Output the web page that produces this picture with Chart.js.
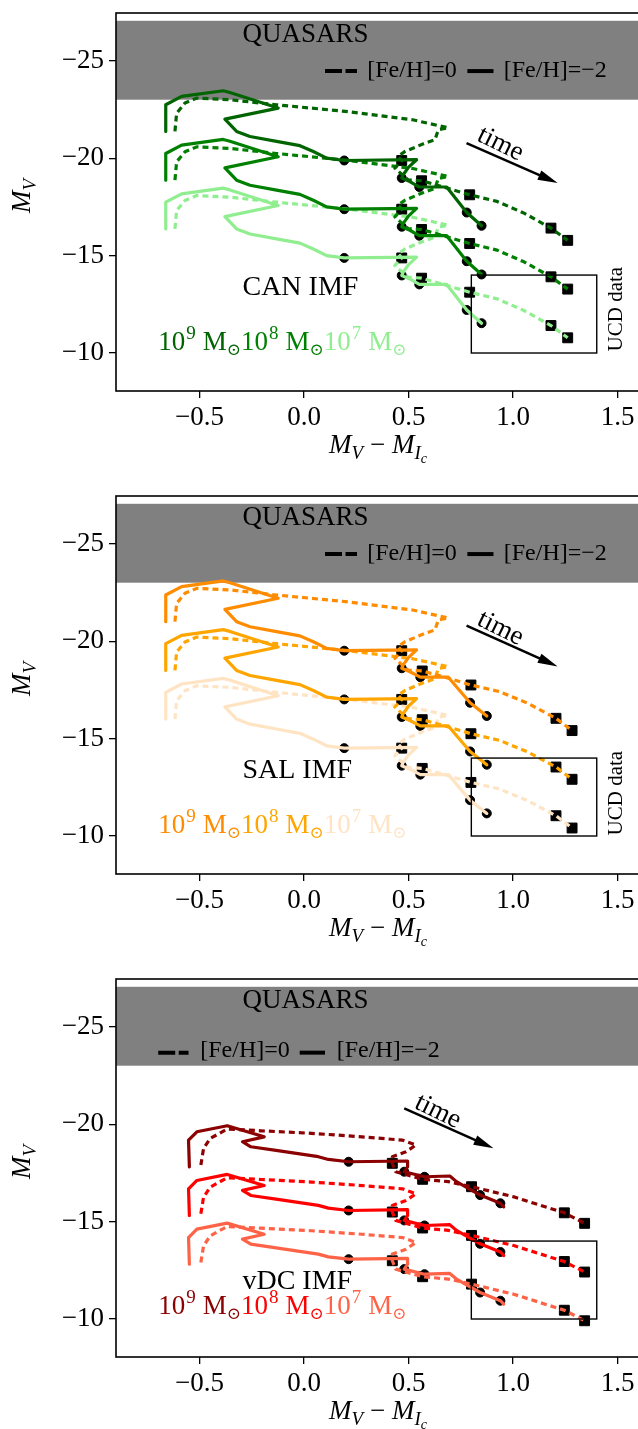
<!DOCTYPE html>
<html>
<head>
<meta charset="utf-8">
<script src="https://cdn.jsdelivr.net/npm/chart.js@4.4.0/dist/chart.umd.min.js"></script>
<style>
  html, body { margin: 0; padding: 0; background: #fff; width: 638px; height: 1429px; overflow: hidden; }
  canvas { position: absolute; left: 0; }
</style>
</head>
<body>
<canvas id="c0" width="665" height="483" style="top:0px"></canvas>
<canvas id="c1" width="665" height="483" style="top:483px"></canvas>
<canvas id="c2" width="665" height="483" style="top:966px"></canvas>
<script>
// axes
const xTicks = [-0.5, 0.0, 0.5, 1.0, 1.5];
const yTicks = [-25, -20, -15, -10];
const quasarBand = [-23.0, -27.05];
const ucdBoxX = [0.8, 1.4];
const ucdBoxY = [-14, -10];
const massExp = ['9', '8', '7'];

// colours per IMF (10^9, 10^8, 10^7)
const canColors = ['#006400', '#008000', '#90ee90'];
const salColors = ['#ff8c00', '#ffa500', '#ffe4c4'];
const vdcColors = ['#8b0000', '#ff0000', '#ff6347'];

// CAN IMF, [Fe/H]=-2 (solid)
const canSolidX  = [-0.662, -0.662, -0.586, -0.387, -0.355, -0.124, -0.379, -0.323, -0.259, -0.132, -0.020, 0.044, 0.108, 0.192, 0.538, 0.500, 0.474, 0.467, 0.506, 0.551, 0.682, 0.778, 0.849];
const canSolidY9 = [-21.37, -22.74, -23.17, -23.46, -23.37, -22.57, -22.00, -21.37, -21.11, -20.86, -20.64, -20.34, -20.00, -19.88, -19.92, -19.54, -19.15, -18.98, -18.80, -18.52, -18.52, -17.21, -16.53];
const canSolidY8 = [-18.87, -20.24, -20.67, -20.96, -20.87, -20.07, -19.50, -18.87, -18.61, -18.36, -18.14, -17.84, -17.50, -17.38, -17.42, -17.04, -16.65, -16.48, -16.30, -16.02, -16.02, -14.71, -14.03];
const canSolidY7 = [-16.37, -17.74, -18.17, -18.46, -18.37, -17.57, -17.00, -16.37, -16.11, -15.86, -15.64, -15.34, -15.00, -14.88, -14.92, -14.54, -14.15, -13.98, -13.80, -13.52, -13.52, -12.21, -11.53];
// CAN IMF, [Fe/H]=0 (dashed)
const canDashX  = [-0.618, -0.610, -0.570, -0.514, -0.355, -0.132, 0.197, 0.519, 0.689, 0.642, 0.626, 0.578, 0.482, 0.450, 0.467, 0.434, 0.497, 0.562, 0.682, 0.792, 0.923, 1.052, 1.181, 1.261];
const canDashY9 = [-21.37, -22.31, -22.83, -23.08, -23.00, -22.74, -22.40, -21.97, -21.56, -21.46, -20.94, -20.77, -20.34, -20.09, -19.88, -19.49, -18.89, -18.84, -18.47, -18.12, -17.78, -17.18, -16.41, -15.78];
const canDashY8 = [-18.87, -19.81, -20.33, -20.58, -20.50, -20.24, -19.90, -19.47, -19.06, -18.96, -18.44, -18.27, -17.84, -17.59, -17.38, -16.99, -16.39, -16.34, -15.97, -15.62, -15.28, -14.68, -13.91, -13.28];
const canDashY7 = [-16.37, -17.31, -17.83, -18.08, -18.00, -17.74, -17.40, -16.97, -16.56, -16.46, -15.94, -15.77, -15.34, -15.09, -14.88, -14.49, -13.89, -13.84, -13.47, -13.12, -12.78, -12.18, -11.41, -10.78];
const canSolidMarks = [13, 17, 19, 21, 22];
const canDashMarks = [14, 17, 19, 22, 23];

// SAL IMF
const salSolidX  = [-0.662, -0.662, -0.586, -0.387, -0.355, -0.124, -0.379, -0.323, -0.259, -0.132, -0.020, 0.044, 0.108, 0.192, 0.538, 0.500, 0.474, 0.467, 0.506, 0.556, 0.690, 0.794, 0.874];
const salSolidY9 = [-21.00, -22.37, -22.80, -23.09, -23.00, -22.20, -21.63, -21.00, -20.74, -20.49, -20.27, -19.97, -19.63, -19.51, -19.55, -19.17, -18.78, -18.61, -18.43, -18.15, -18.15, -16.84, -16.16];
const salSolidY8 = [-18.50, -19.87, -20.30, -20.59, -20.50, -19.70, -19.13, -18.50, -18.24, -17.99, -17.77, -17.47, -17.13, -17.01, -17.05, -16.67, -16.28, -16.11, -15.93, -15.65, -15.65, -14.34, -13.66];
const salSolidY7 = [-16.00, -17.37, -17.80, -18.09, -18.00, -17.20, -16.63, -16.00, -15.74, -15.49, -15.27, -14.97, -14.63, -14.51, -14.55, -14.17, -13.78, -13.61, -13.43, -13.15, -13.15, -11.84, -11.16];
const salDashX  = [-0.618, -0.610, -0.570, -0.514, -0.355, -0.132, 0.197, 0.519, 0.689, 0.642, 0.626, 0.578, 0.482, 0.450, 0.467, 0.434, 0.497, 0.565, 0.690, 0.798, 0.935, 1.070, 1.205, 1.282];
const salDashY9 = [-21.00, -21.94, -22.46, -22.71, -22.63, -22.37, -22.03, -21.60, -21.19, -21.09, -20.57, -20.40, -19.97, -19.72, -19.51, -19.12, -18.52, -18.47, -18.10, -17.75, -17.41, -16.81, -16.04, -15.41];
const salDashY8 = [-18.50, -19.44, -19.96, -20.21, -20.13, -19.87, -19.53, -19.10, -18.69, -18.59, -18.07, -17.90, -17.47, -17.22, -17.01, -16.62, -16.02, -15.97, -15.60, -15.25, -14.91, -14.31, -13.54, -12.91];
const salDashY7 = [-16.00, -16.94, -17.46, -17.71, -17.63, -17.37, -17.03, -16.60, -16.19, -16.09, -15.57, -15.40, -14.97, -14.72, -14.51, -14.12, -13.52, -13.47, -13.10, -12.75, -12.41, -11.81, -11.04, -10.41];

// vDC IMF
const vdcSolidX  = [-0.549, -0.553, -0.513, -0.368, -0.191, -0.295, -0.255, -0.126, 0.068, 0.116, 0.213, 0.495, 0.495, 0.479, 0.576, 0.697, 0.729, 0.842, 0.939, 0.955];
const vdcSolidY9 = [-17.81, -19.18, -19.61, -19.92, -19.35, -19.10, -18.84, -18.64, -18.33, -18.19, -18.07, -18.11, -17.81, -17.56, -17.30, -17.34, -17.05, -16.36, -15.94, -15.76];
const vdcSolidY8 = [-15.31, -16.68, -17.11, -17.42, -16.85, -16.60, -16.34, -16.14, -15.83, -15.69, -15.57, -15.61, -15.31, -15.06, -14.80, -14.84, -14.55, -13.86, -13.44, -13.26];
const vdcSolidY7 = [-12.81, -14.18, -14.61, -14.92, -14.35, -14.10, -13.84, -13.64, -13.33, -13.19, -13.07, -13.11, -12.81, -12.56, -12.30, -12.34, -12.05, -11.36, -10.94, -10.76];
const vdcDashX  = [-0.494, -0.481, -0.449, -0.368, -0.207, 0.035, 0.277, 0.471, 0.535, 0.487, 0.422, 0.422, 0.438, 0.567, 0.690, 0.801, 1.003, 1.245, 1.342];
const vdcDashY9 = [-17.90, -18.76, -19.27, -19.75, -19.66, -19.53, -19.35, -19.18, -18.93, -18.58, -18.33, -17.99, -17.56, -17.17, -17.05, -16.79, -16.27, -15.45, -14.91];
const vdcDashY8 = [-15.40, -16.26, -16.77, -17.25, -17.16, -17.03, -16.85, -16.68, -16.43, -16.08, -15.83, -15.49, -15.06, -14.67, -14.55, -14.29, -13.77, -12.95, -12.41];
const vdcDashY7 = [-12.90, -13.76, -14.27, -14.75, -14.66, -14.53, -14.35, -14.18, -13.93, -13.58, -13.33, -12.99, -12.56, -12.17, -12.05, -11.79, -11.27, -10.45, -9.91];
const vdcSolidMarks = [10, 13, 14, 17, 18];
const vdcDashMarks = [11, 13, 15, 17, 18];

const SERIF = '"Liberation Serif", "Times New Roman", serif';

const panels = [
  { id: 'c0', imf: 'CAN IMF', colors: canColors,
    solidX: canSolidX, solidY: [canSolidY9, canSolidY8, canSolidY7],
    dashX: canDashX, dashY: [canDashY9, canDashY8, canDashY7],
    solidMarks: canSolidMarks, dashMarks: canDashMarks,
    imfPos: [-0.295, -13.0], massPos: [-0.698, -10.17],
    legend: { y: -24.47, base: -24.18, x: [0.100, 0.253, 0.302, 0.781, 0.906, 0.955] },
    arrow: [0.777, -20.77, 1.213, -18.72], timePos: [0.939, -20.72], ucd: [1.519, -12.25] },
  { id: 'c1', imf: 'SAL IMF', colors: salColors,
    solidX: salSolidX, solidY: [salSolidY9, salSolidY8, salSolidY7],
    dashX: salDashX, dashY: [salDashY9, salDashY8, salDashY7],
    solidMarks: canSolidMarks, dashMarks: canDashMarks,
    imfPos: [-0.295, -12.96], massPos: [-0.698, -10.15],
    legend: { y: -24.47, base: -24.18, x: [0.100, 0.253, 0.302, 0.781, 0.906, 0.955] },
    arrow: [0.777, -20.80, 1.213, -18.70], timePos: [0.939, -20.65], ucd: [1.519, -12.2] },
  { id: 'c2', imf: 'vDC IMF', colors: vdcColors,
    solidX: vdcSolidX, solidY: [vdcSolidY9, vdcSolidY8, vdcSolidY7],
    dashX: vdcDashX, dashY: [vdcDashY9, vdcDashY8, vdcDashY7],
    solidMarks: vdcSolidMarks, dashMarks: vdcDashMarks,
    imfPos: [-0.295, -11.52], massPos: [-0.698, -10.26],
    legend: { y: -23.67, base: -23.43, x: [-0.698, -0.553, -0.497, -0.021, 0.100, 0.156] },
    arrow: [0.479, -20.81, 0.906, -18.76], timePos: [0.640, -20.64], ucd: null }
];

function pts(xs, ys) { return xs.map((x, i) => ({ x: x, y: ys[i] })); }

function lineSet(xs, ys, color, dashed, order) {
  return {
    data: pts(xs, ys), showLine: true, borderColor: color, borderWidth: 3.2,
    borderDash: dashed ? [6, 4] : [], pointRadius: 0, pointHoverRadius: 0,
    borderJoinStyle: 'round', borderCapStyle: dashed ? 'butt' : 'round',
    tension: 0, fill: false, order: order
  };
}

function markSet(xs, ys, idx, style) {
  return {
    data: idx.map(i => ({ x: xs[i], y: ys[i] })), showLine: false,
    pointStyle: style, pointRadius: style === 'rect' ? 7 : 4.5, pointHoverRadius: 0,
    backgroundColor: '#000', borderColor: '#000', borderWidth: 1, order: 10
  };
}

function minus(s) { return String(s).replace('-', '\u2212'); }

function drawArrow(ctx, x1, y1, x2, y2) {
  const a = Math.atan2(y2 - y1, x2 - x1);
  const hl = 20, hw = 5;
  const bx = x2 - hl * Math.cos(a), by = y2 - hl * Math.sin(a);
  ctx.strokeStyle = '#000'; ctx.fillStyle = '#000'; ctx.lineWidth = 2.5;
  ctx.beginPath(); ctx.moveTo(x1, y1); ctx.lineTo(bx + 2 * Math.cos(a), by + 2 * Math.sin(a)); ctx.stroke();
  ctx.beginPath();
  ctx.moveTo(x2, y2);
  ctx.lineTo(bx + hw * Math.sin(a), by - hw * Math.cos(a));
  ctx.lineTo(bx - hw * Math.sin(a), by + hw * Math.cos(a));
  ctx.closePath(); ctx.fill();
}

function massLabel(ctx, x, y, exp, color) {
  ctx.fillStyle = color;
  ctx.font = '27px ' + SERIF;
  ctx.fillText('10', x, y); x += ctx.measureText('10').width;
  ctx.font = '19px ' + SERIF;
  ctx.fillText(exp, x + 1, y - 11); x += ctx.measureText(exp).width + 8;
  ctx.font = '27px ' + SERIF;
  ctx.fillText('M', x, y); x += ctx.measureText('M').width;
  ctx.font = '17px "DejaVu Serif"';
  ctx.fillText('\u2299', x, y + 5); x += ctx.measureText('\u2299').width;
  return x;
}

// pieces: [text, font, dy]
function drawPieces(ctx, pieces, x, y) {
  pieces.forEach(p => {
    ctx.font = p[1];
    ctx.fillText(p[0], x, y + p[2]);
    x += ctx.measureText(p[0]).width;
  });
}
function piecesWidth(ctx, pieces) {
  let w = 0;
  pieces.forEach(p => { ctx.font = p[1]; w += ctx.measureText(p[0]).width; });
  return w;
}

const decor = {
  id: 'decor',
  beforeDatasetsDraw(chart, args, p) {
    const { ctx, chartArea: a, scales: { y } } = chart;
    const t = y.getPixelForValue(quasarBand[1]), b = y.getPixelForValue(quasarBand[0]);
    ctx.save();
    ctx.fillStyle = '#808080';
    ctx.fillRect(a.left, t, a.right - a.left, b - t);
    ctx.restore();
  },
  afterDatasetsDraw(chart, args, p) {
    const { ctx, scales: { x, y } } = chart;
    ctx.save();
    ctx.fillStyle = '#000';
    ctx.textBaseline = 'alphabetic';
    ctx.textAlign = 'left';

    // QUASARS
    ctx.font = '27px ' + SERIF;
    ctx.fillText('QUASARS', x.getPixelForValue(-0.295), y.getPixelForValue(-25.95));

    // legend
    const L = p.legend, ly = y.getPixelForValue(L.y), lb = y.getPixelForValue(L.base);
    ctx.strokeStyle = '#000'; ctx.lineWidth = 4;
    ctx.setLineDash([17, 3.5]);
    ctx.beginPath(); ctx.moveTo(x.getPixelForValue(L.x[0]), ly); ctx.lineTo(x.getPixelForValue(L.x[1]), ly); ctx.stroke();
    ctx.setLineDash([]);
    ctx.beginPath(); ctx.moveTo(x.getPixelForValue(L.x[3]), ly); ctx.lineTo(x.getPixelForValue(L.x[4]), ly); ctx.stroke();
    ctx.font = '24px ' + SERIF;
    ctx.fillText('[Fe/H]=0', x.getPixelForValue(L.x[2]), lb);
    ctx.fillText('[Fe/H]=\u22122', x.getPixelForValue(L.x[5]), lb);

    // UCD box
    ctx.lineWidth = 1.4;
    const bx0 = x.getPixelForValue(ucdBoxX[0]), bx1 = x.getPixelForValue(ucdBoxX[1]);
    const by0 = y.getPixelForValue(ucdBoxY[0]), by1 = y.getPixelForValue(ucdBoxY[1]);
    ctx.strokeRect(bx0, by0, bx1 - bx0, by1 - by0);

    if (p.ucd) {
      ctx.save();
      ctx.translate(x.getPixelForValue(p.ucd[0]), y.getPixelForValue(p.ucd[1]));
      ctx.rotate(-Math.PI / 2);
      ctx.font = '21px ' + SERIF;
      ctx.textAlign = 'center';
      ctx.fillText('UCD data', 0, 0);
      ctx.restore();
    }

    // time arrow
    const ar = p.arrow;
    drawArrow(ctx, x.getPixelForValue(ar[0]), y.getPixelForValue(ar[1]), x.getPixelForValue(ar[2]), y.getPixelForValue(ar[3]));
    ctx.save();
    ctx.translate(x.getPixelForValue(p.timePos[0]), y.getPixelForValue(p.timePos[1]));
    ctx.rotate(26 * Math.PI / 180);
    ctx.font = '27px ' + SERIF;
    ctx.textAlign = 'center'; ctx.textBaseline = 'middle';
    ctx.fillStyle = '#000';
    ctx.fillText('time', 0, 0);
    ctx.restore();

    // IMF label
    ctx.fillStyle = '#000';
    ctx.font = '28px ' + SERIF;
    ctx.fillText(p.imf, x.getPixelForValue(p.imfPos[0]), y.getPixelForValue(p.imfPos[1]));

    // mass labels
    let mx = x.getPixelForValue(p.massPos[0]);
    const my = y.getPixelForValue(p.massPos[1]);
    massExp.forEach((e, i) => { mx = massLabel(ctx, mx, my, e, p.colors[i]); });
    ctx.restore();
  },
  afterDraw(chart) {
    const { ctx, chartArea: a } = chart;
    ctx.save();
    ctx.strokeStyle = '#000'; ctx.lineWidth = 1.6;
    ctx.strokeRect(a.left, a.top, a.right - a.left, a.bottom - a.top);
    ctx.fillStyle = '#000';
    ctx.textBaseline = 'alphabetic'; ctx.textAlign = 'left';
    const it = 'italic 27px ' + SERIF, its = 'italic 19px ' + SERIF, itss = 'italic 14px ' + SERIF, rm = '27px ' + SERIF;
    // x title
    const xp = [['M', it, 0], ['V', its, 6], [' \u2212 ', rm, 0], ['M', it, 0], ['I', its, 6], ['c', itss, 10]];
    const w = piecesWidth(ctx, xp);
    drawPieces(ctx, xp, 378 - w / 2, a.bottom + 62);
    // y title
    const yp = [['M', it, 0], ['V', its, 6]];
    const wy = piecesWidth(ctx, yp);
    ctx.translate(30, 196);
    ctx.rotate(-Math.PI / 2);
    drawPieces(ctx, yp, -wy / 2, 0);
    ctx.restore();
  }
};

panels.forEach(p => {
  const datasets = [];
  for (let i = 0; i < 3; i++) {
    datasets.push(markSet(p.solidX, p.solidY[i], p.solidMarks, 'circle'));
    datasets.push(markSet(p.dashX, p.dashY[i], p.dashMarks, 'rect'));
  }
  for (let i = 2; i >= 0; i--) {
    datasets.push(lineSet(p.dashX, p.dashY[i], p.colors[i], true, i + 1));
    datasets.push(lineSet(p.solidX, p.solidY[i], p.colors[i], false, i + 1));
  }
  new Chart(document.getElementById(p.id), {
    type: 'scatter',
    data: { datasets: datasets },
    plugins: [decor],
    options: {
      responsive: false,
      animation: false,
      events: [],
      layout: { padding: { top: 13, left: 0, right: 16, bottom: 0 } },
      plugins: { legend: { display: false }, tooltip: { enabled: false }, decor: p },
      scales: {
        x: {
          type: 'linear', min: -0.9, max: 1.65,
          afterBuildTicks: s => { s.ticks = xTicks.map(v => ({ value: v })); },
          afterFit: s => { s.height = 92; s.paddingLeft = 0; s.paddingRight = 0; },
          ticks: { callback: v => minus(v.toFixed(1)), font: { family: SERIF, size: 27 }, color: '#000', padding: 4, autoSkip: false, maxRotation: 0 },
          grid: { drawOnChartArea: false, drawTicks: true, tickLength: 7, color: '#000', lineWidth: 1.3 },
          border: { display: false }
        },
        y: {
          type: 'linear', reverse: true, min: -27.45, max: -8.05,
          afterBuildTicks: s => { s.ticks = yTicks.map(v => ({ value: v })); },
          afterFit: s => { s.width = 116; s.paddingTop = 0; s.paddingBottom = 0; },
          ticks: { callback: v => minus(v), font: { family: SERIF, size: 27 }, color: '#000', padding: 5 },
          grid: { drawOnChartArea: false, drawTicks: true, tickLength: 7, color: '#000', lineWidth: 1.3 },
          border: { display: false }
        }
      }
    }
  });
});
</script>
</body>
</html>
